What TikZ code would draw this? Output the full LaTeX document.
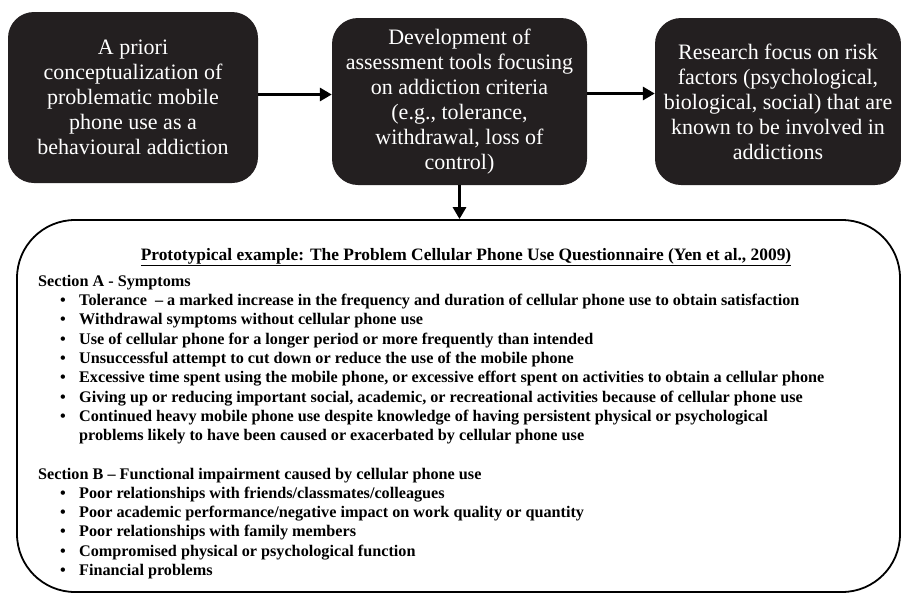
\documentclass[tikz,border=0pt]{standalone}
\usepackage{fontspec}
\setmainfont{Liberation Serif}
\usetikzlibrary{positioning,arrows.meta}
\definecolor{cdark}{RGB}{35,31,32}
\newcommand{\itm}{\makebox[41pt][l]{\hspace*{22pt}\textbullet}}

\begin{document}
\begin{tikzpicture}[x=1pt, y=-1pt,
    stage/.style={fill=cdark, rounded corners=26pt, text=white, align=center,
                  inner sep=0pt, font=\fontsize{22}{25}\selectfont},
    frame/.style={draw, line width=1.8pt, rounded corners=58pt},
    flow/.style={->, line width=3pt},
    >={Triangle[length=12pt, width=13pt]}
  ]
  \useasboundingbox (0,0) rectangle (901,595);

  \node[stage, minimum width=250pt, minimum height=171pt] (concept) at (133,97.5) {
    A priori\\ conceptualization of\\ problematic mobile\\ phone use as a\\ behavioural addiction
  };
  \node[stage, minimum width=255pt, minimum height=167pt] (tools) at (459.5,101.5) {
    Development of\\ assessment tools focusing\\ on addiction criteria\\ (e.g., tolerance,\\ withdrawal, loss of\\ control)
  };
  \node[stage, minimum width=246pt, minimum height=167pt] (risk) at (778,101.5) {
    Research focus on risk\\ factors (psychological,\\ biological, social) that are\\ known to be involved in\\ addictions
  };
  \node[frame, minimum width=883pt, minimum height=372pt] (pcpuq) at (458.5,406) {};

  \node[anchor=base, inner sep=0pt, font=\bfseries\fontsize{17.4}{19.27}\selectfont] (title) at (466,260)
    {\underline{Prototypical example: The Problem Cellular Phone Use Questionnaire (Yen et al., 2009)}};
  \node[anchor=north west, inner sep=0pt, align=left, font=\bfseries\fontsize{16.2}{19.27}\selectfont] (items) at (38,275) {
    Section A - Symptoms\\
    \itm Tolerance \ – a marked increase in the frequency and duration of cellular phone use to obtain satisfaction\\
    \itm Withdrawal symptoms without cellular phone use\\
    \itm Use of cellular phone for a longer period or more frequently than intended\\
    \itm Unsuccessful attempt to cut down or reduce the use of the mobile phone\\
    \itm Excessive time spent using the mobile phone, or excessive effort spent on activities to obtain a cellular phone\\
    \itm Giving up or reducing important social, academic, or recreational activities because of cellular phone use\\
    \itm Continued heavy mobile phone use despite knowledge of having persistent physical or psychological\\
    \hspace*{41pt}problems likely to have been caused or exacerbated by cellular phone use\\[19.27pt]
    Section B – Functional impairment caused by cellular phone use\\
    \itm Poor relationships with friends/classmates/colleagues\\
    \itm Poor academic performance/negative impact on work quality or quantity\\
    \itm Poor relationships with family members\\
    \itm Compromised physical or psychological function\\
    \itm Financial problems
  };

  \draw[flow] ([yshift=3pt]concept.east) -- ([yshift=3pt]concept.east -| tools.west);
  \draw[flow] ([yshift=8pt]tools.east) -- ([yshift=8pt]tools.east -| risk.west);
  \draw[flow] (tools.south) -- (tools.south |- pcpuq.north);
\end{tikzpicture}
\end{document}
